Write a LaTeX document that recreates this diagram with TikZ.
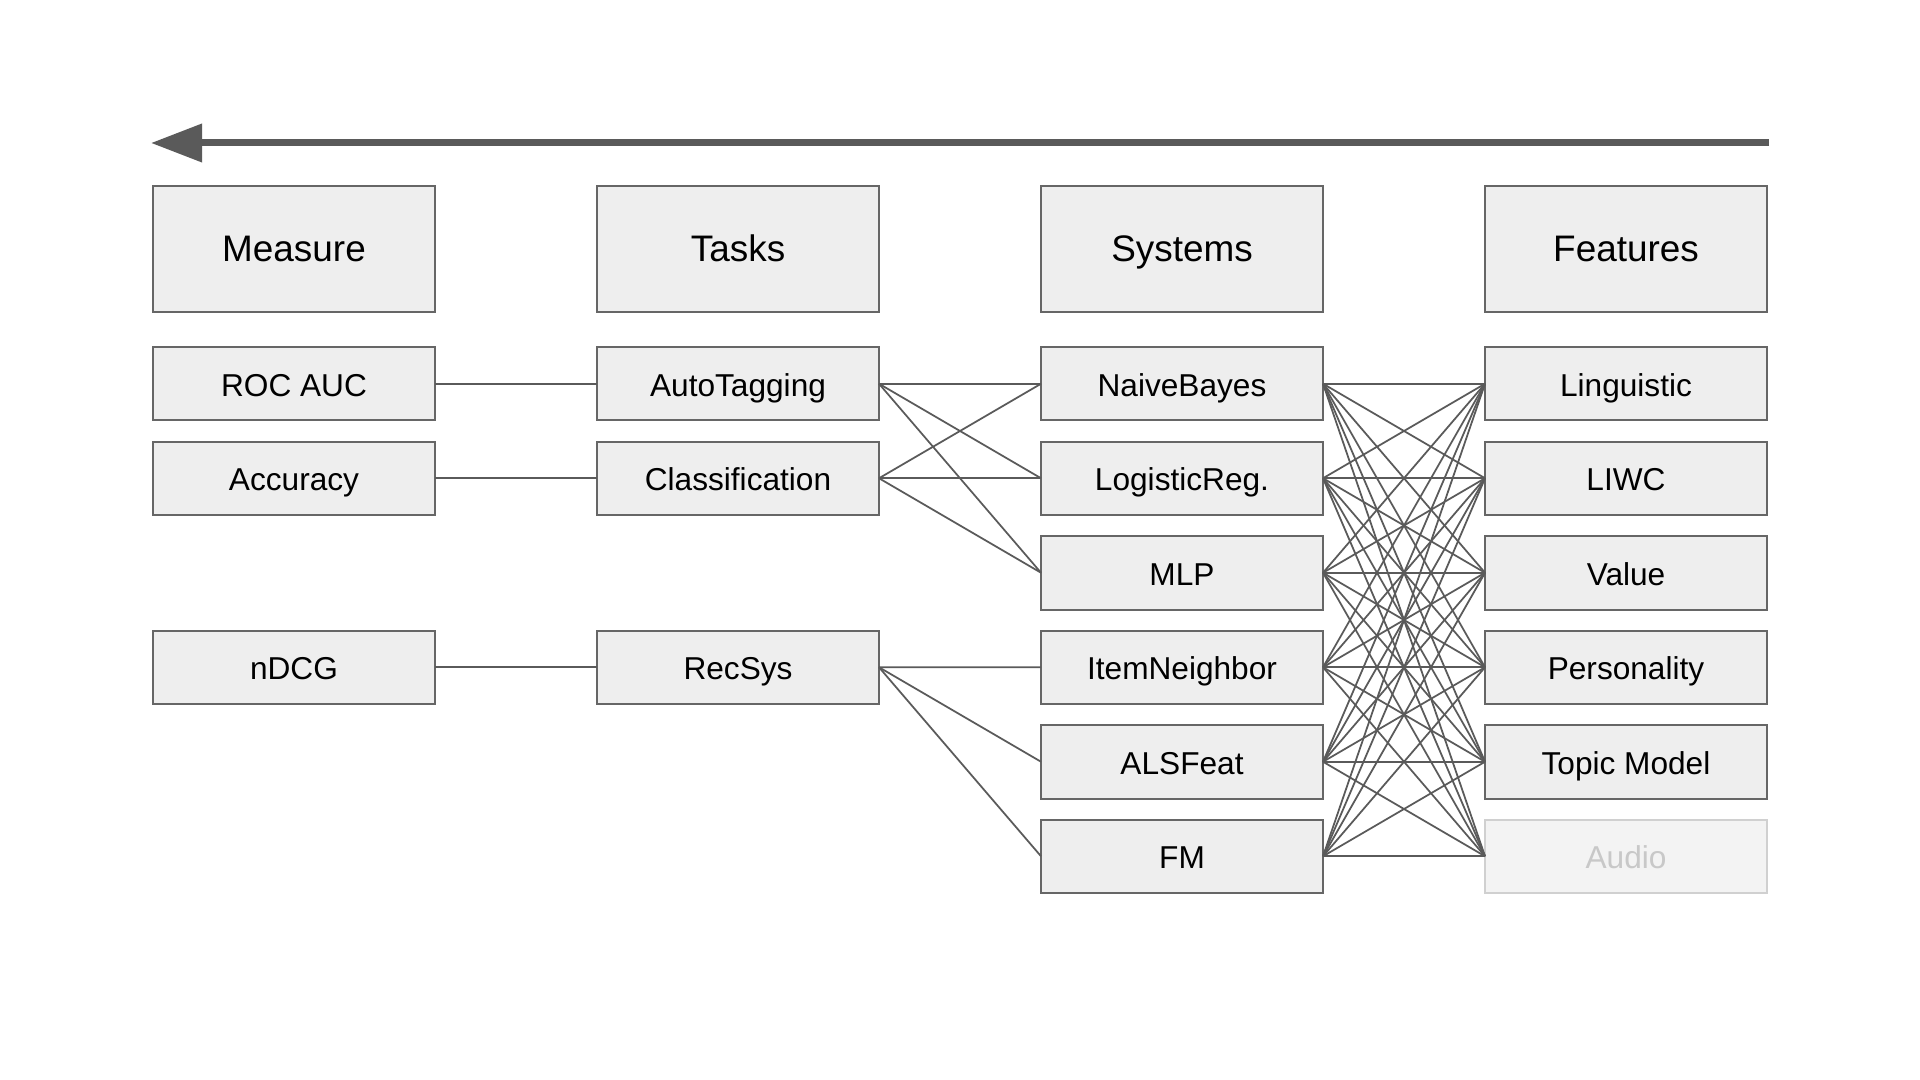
\documentclass[tikz,border=0pt]{standalone}
\usepackage{fontspec}
\setmainfont{Liberation Sans}
\usepackage{tikz}
\usetikzlibrary{positioning,arrows.meta}

\definecolor{boxfill}{HTML}{EEEEEE}
\definecolor{boxline}{HTML}{666666}
\definecolor{linkgray}{HTML}{5A5A5A}
\definecolor{fadefill}{HTML}{F3F3F3}
\definecolor{fadeline}{HTML}{D0D0D0}
\definecolor{fadetext}{HTML}{C8C8C8}

\begin{document}
\begin{tikzpicture}[
  node distance=3.5mm and 16.2mm,
  head/.style={rectangle, draw=boxline, fill=boxfill, line width=0.2mm, outer sep=0pt, minimum width=28.2mm, minimum height=12.6mm, text height=0.716em, text depth=0pt, font=\fontsize{10.5}{12}\selectfont},
  item/.style={rectangle, draw=boxline, fill=boxfill, line width=0.2mm, outer sep=0pt, minimum width=28.2mm, minimum height=7.35mm, text height=0.716em, text depth=0pt, font=\fontsize{9}{11}\selectfont},
  faded/.style={item, draw=fadeline, fill=fadefill, text=fadetext},
  link/.style={draw=linkgray, line width=0.5pt},
  flow/.style={-{Triangle[length=5.1mm,width=3.7mm]}, draw=linkgray, fill=linkgray, line width=0.7mm}
]
\useasboundingbox (0,0) rectangle (192mm,-108mm);

% Direction arrow
\coordinate (flowstart) at (176.9mm,-14.3mm);
\coordinate (flowend) at (15.1mm,-14.3mm);
\draw[flow] (flowstart) -- (flowend);

% Headers
\node[head] (measure) at (29.4mm,-24.9mm) {Measure};
\node[head] (tasks) [right=of measure] {Tasks};
\node[head] (systems) [right=of tasks] {Systems};
\node[head] (features) [right=of systems] {Features};

% Measures
\node[item] (rocauc) [below=of measure] {ROC AUC};
\node[item] (accuracy) [below=2.1mm of rocauc] {Accuracy};
\node[item] (ndcg) [below=11.55mm of accuracy] {nDCG};

% Tasks
\node[item] (autotag) [below=of tasks] {AutoTagging};
\node[item] (classif) [below=2.1mm of autotag] {Classification};
\node[item] (recsys) [below=11.55mm of classif] {RecSys};

% Systems
\node[item] (naivebayes) [below=of systems] {NaiveBayes};
\node[item] (logreg) [below=2.1mm of naivebayes] {LogisticReg.};
\node[item] (mlp) [below=2.1mm of logreg] {MLP};
\node[item] (itemnb) [below=2.1mm of mlp] {ItemNeighbor};
\node[item] (alsfeat) [below=2.1mm of itemnb] {ALSFeat};
\node[item] (fm) [below=2.1mm of alsfeat] {FM};

% Features
\node[item] (linguistic) [below=of features] {Linguistic};
\node[item] (liwc) [below=2.1mm of linguistic] {LIWC};
\node[item] (value) [below=2.1mm of liwc] {Value};
\node[item] (personality) [below=2.1mm of value] {Personality};
\node[item] (topic) [below=2.1mm of personality] {Topic Model};
\node[faded] (audio) [below=2.1mm of topic] {Audio};

% Measure -- Task
\draw[link] (rocauc) -- (autotag);
\draw[link] (accuracy) -- (classif);
\draw[link] (ndcg) -- (recsys);

% Task -- System
\foreach \t in {autotag,classif}
  \foreach \s in {naivebayes,logreg,mlp}
    \draw[link] (\t.east) -- (\s.west);
\foreach \s in {itemnb,alsfeat,fm}
  \draw[link] (recsys.east) -- (\s.west);

% System -- Feature
\foreach \s in {naivebayes,logreg,mlp,itemnb,alsfeat,fm}
  \foreach \f in {linguistic,liwc,value,personality,topic,audio}
    \draw[link] (\s.east) -- (\f.west);

\end{tikzpicture}
\end{document}
